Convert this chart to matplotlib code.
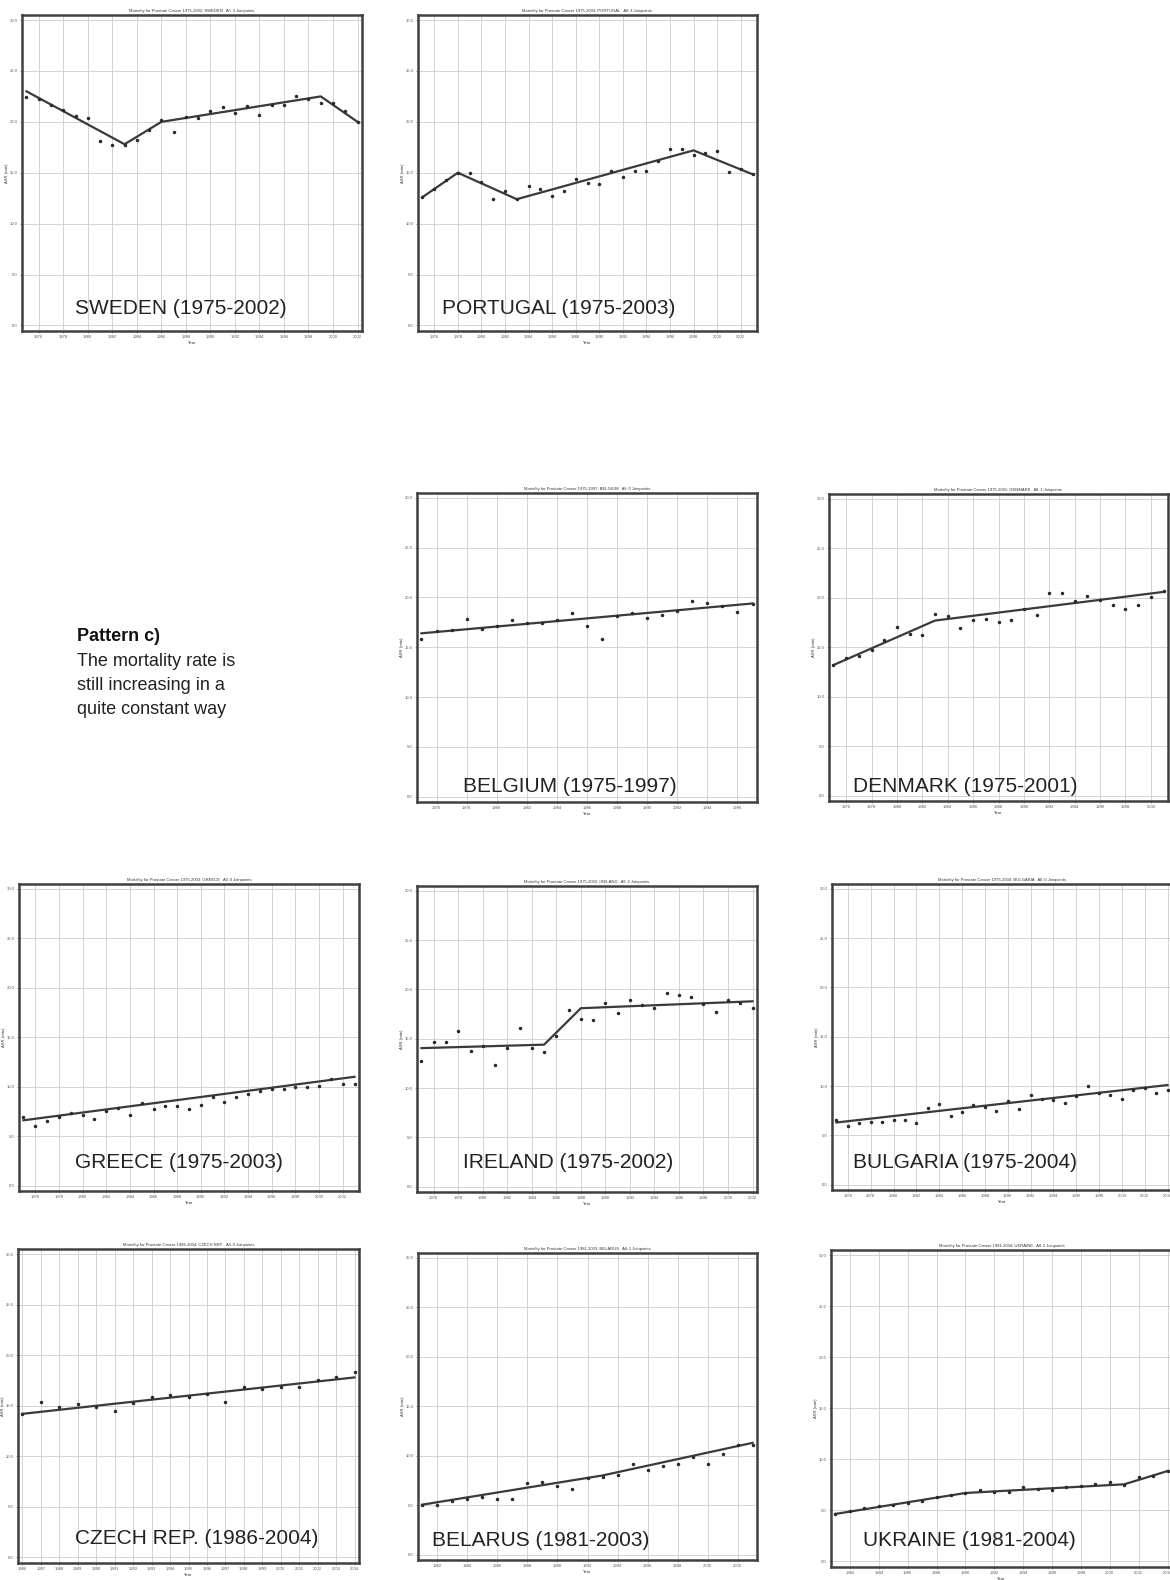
import matplotlib
matplotlib.use("Agg")
import matplotlib.pyplot as plt
import numpy as np

plt.rcParams['font.family'] = ['Liberation Sans', 'DejaVu Sans']

# ---------------- data ----------------
countries = ["SWEDEN", "PORTUGAL", "BELGIUM", "DENMARK", "GREECE",
             "IRELAND", "BULGARIA", "CZECH REP.", "BELARUS", "UKRAINE"]
year_start = [1975, 1975, 1975, 1975, 1975, 1975, 1975, 1986, 1981, 1981]
year_end = [2002, 2003, 1997, 2001, 2003, 2002, 2004, 2004, 2003, 2004]
n_joinpoints = [3, 3, 0, 1, 0, 2, 0, 0, 1, 2]

sweden_obs = [22.4, 22.2, 21.7, 21.2, 20.6, 20.4, 18.1, 17.7, 17.7, 18.2, 19.2, 20.2, 19.0, 20.5,
              20.4, 21.1, 21.5, 20.9, 21.6, 20.7, 21.7, 21.7, 22.5, 22.2, 21.9, 21.9, 21.1, 20.0]
portugal_obs = [12.6, 13.4, 14.3, 15.0, 15.0, 14.1, 12.4, 13.2, 12.4, 13.7, 13.4, 12.7, 13.2, 14.4,
                14.0, 13.9, 15.2, 14.6, 15.2, 15.2, 16.2, 17.3, 17.3, 16.7, 16.9, 17.1, 15.1, 15.4, 14.85]
belgium_obs = [15.8, 16.6, 16.7, 17.8, 16.8, 17.1, 17.7, 17.4, 17.4, 17.7, 18.4, 17.1, 15.8, 18.1,
               18.4, 17.9, 18.2, 18.6, 19.6, 19.4, 19.1, 18.5, 19.3]
denmark_obs = [13.2, 13.9, 14.1, 14.7, 15.7, 17.0, 16.3, 16.2, 18.4, 18.2, 16.9, 17.8, 17.9, 17.6,
               17.8, 18.9, 18.3, 20.5, 20.5, 19.7, 20.2, 19.8, 19.3, 18.9, 19.3, 20.1, 20.7]
greece_obs = [6.9, 6.05, 6.5, 6.9, 7.35, 7.15, 6.7, 7.5, 7.85, 7.1, 8.3, 7.75, 8.0, 8.0, 7.75,
              8.1, 9.0, 8.5, 9.0, 9.3, 9.6, 9.8, 9.75, 10.0, 10.0, 10.1, 10.8, 10.3, 10.3]
ireland_obs = [12.75, 14.7, 14.7, 15.75, 13.8, 14.3, 12.3, 14.05, 16.05, 14.05, 13.7, 15.3, 17.9,
               17.05, 16.9, 18.65, 17.6, 18.9, 18.4, 18.1, 19.6, 19.4, 19.25, 18.5, 17.7, 18.9, 18.65, 18.1]
bulgaria_obs = [6.6, 5.95, 6.2, 6.3, 6.3, 6.55, 6.6, 6.2, 7.8, 8.2, 7.0, 7.35, 8.1, 7.9, 7.5, 8.5,
                7.7, 9.1, 8.7, 8.6, 8.3, 8.95, 10.05, 9.3, 9.05, 8.7, 9.6, 9.8, 9.25, 9.6]
czech_obs = [14.2, 15.4, 14.9, 15.2, 14.85, 14.5, 15.25, 15.9, 16.1, 15.9, 16.2, 15.4, 16.9, 16.7,
             16.85, 16.9, 17.5, 17.8, 18.3]
belarus_obs = [5.05, 5.0, 5.4, 5.6, 5.85, 5.6, 5.6, 7.2, 7.3, 6.9, 6.6, 7.75, 7.85, 8.05, 9.15,
               8.6, 9.0, 9.15, 9.85, 9.2, 10.2, 11.1, 11.05]
ukraine_obs = [4.65, 4.95, 5.2, 5.4, 5.5, 5.75, 5.9, 6.35, 6.5, 6.7, 6.95, 6.8, 6.8, 7.3, 7.05,
               6.95, 7.3, 7.35, 7.6, 7.8, 7.45, 8.3, 8.35, 8.85]
observed = [sweden_obs, portugal_obs, belgium_obs, denmark_obs, greece_obs,
            ireland_obs, bulgaria_obs, czech_obs, belarus_obs, ukraine_obs]

# joinpoint trend vertices (year, fitted rate)
trend_years = [[1975, 1983, 1986, 1999, 2002], [1975, 1978, 1983, 1998, 2003], [1975, 1997],
               [1975, 1983, 2001], [1975, 2003], [1975, 1985, 1988, 2002], [1975, 2004],
               [1986, 2004], [1981, 1993, 2003], [1981, 1990, 2001, 2004]]
trend_vals = [[23.0, 17.8, 20.0, 22.5, 20.0], [12.6, 15.0, 12.4, 17.2, 14.85], [16.4, 19.4],
              [13.2, 17.7, 20.6], [6.6, 11.0], [14.05, 14.4, 18.1, 18.8], [6.3, 10.1],
              [14.2, 17.8], [5.05, 8.0, 11.3], [4.65, 6.7, 7.55, 8.85]]

y_ticks = [0, 5, 10, 15, 20, 25, 30]

pattern_title = "Pattern c)"
pattern_lines = ["The mortality rate is", "still increasing in a", "quite constant way"]

# ---------------- layout (pixels) ----------------
W, H = 1170, 1580
fig = plt.figure(figsize=(W / 100, H / 100), dpi=100)
fig.patch.set_facecolor("white")

boxes = [(22, 15, 362, 331), (418, 15, 757, 331), (417, 493, 757, 802), (829, 494, 1168, 801),
         (19, 884, 359, 1191), (417, 886, 757, 1192), (832, 884, 1172, 1190),
         (18, 1249, 359, 1563), (418, 1253, 757, 1560), (831, 1250, 1172, 1567)]
label_pos = [(75, 308), (442, 308), (463, 786), (853, 786), (75, 1163), (463, 1163),
             (853, 1163), (75, 1539), (432, 1541), (863, 1540)]

for i, name in enumerate(countries):
    l, t, r, b = boxes[i]
    ax = fig.add_axes([l / W, 1 - b / H, (r - l) / W, (b - t) / H])
    ys, ye = year_start[i], year_end[i]
    years = np.arange(ys, ye + 1)
    pad = (ye - ys) * 0.0135
    ax.set_xlim(ys - pad, ye + pad)
    ax.set_ylim(-0.55, 30.5)
    step = 1 if ys == 1986 else 2
    xt = list(range(ys + (1 if step == 2 and ys % 2 == 1 else 0), ye + 1, step))
    ax.set_xticks(xt)
    ax.set_xticklabels([str(x) for x in xt], fontsize=3)
    ax.set_yticks(y_ticks)
    ax.set_yticklabels(["%.1f" % v for v in y_ticks], fontsize=3)
    ax.tick_params(length=1.5, width=0.4, pad=1.5, colors="#555555")
    ax.grid(True, color="#cccccc", linewidth=0.6)
    ax.set_axisbelow(True)
    for s in ax.spines.values():
        s.set_linewidth(1.8)
        s.set_color("#404040")
    ax.plot(trend_years[i], trend_vals[i], color="#3a3a3a", linewidth=1.6, zorder=3)
    ax.plot(years, observed[i], linestyle="none", marker="o", markersize=1.5,
            color="#2a2a2a", zorder=4)
    ax.set_title("Mortality for Prostate Cancer %d-%d: %s   All: %d Joinpoints"
                 % (ys, ye, name, n_joinpoints[i]), fontsize=3, pad=2.5, color="#333333")
    ax.set_xlabel("Year", fontsize=3, labelpad=1, color="#333333")
    ax.set_ylabel("ASR (rate)", fontsize=3, labelpad=1, color="#333333")
    lx, ly = label_pos[i]
    fig.text(lx / W, 1 - ly / H, "%s (%d-%d)" % (name, ys, ye), fontsize=15,
             color="#222222", va="center", ha="left")

fig.text(77 / W, 1 - 637 / H, pattern_title, fontsize=13, fontweight="bold",
         color="#111111", va="center", ha="left")
for k, line in enumerate(pattern_lines):
    fig.text(77 / W, 1 - (661 + 24.5 * k) / H, line, fontsize=13,
             color="#222222", va="center", ha="left")

fig.savefig("out.png", dpi=100, facecolor="white")
